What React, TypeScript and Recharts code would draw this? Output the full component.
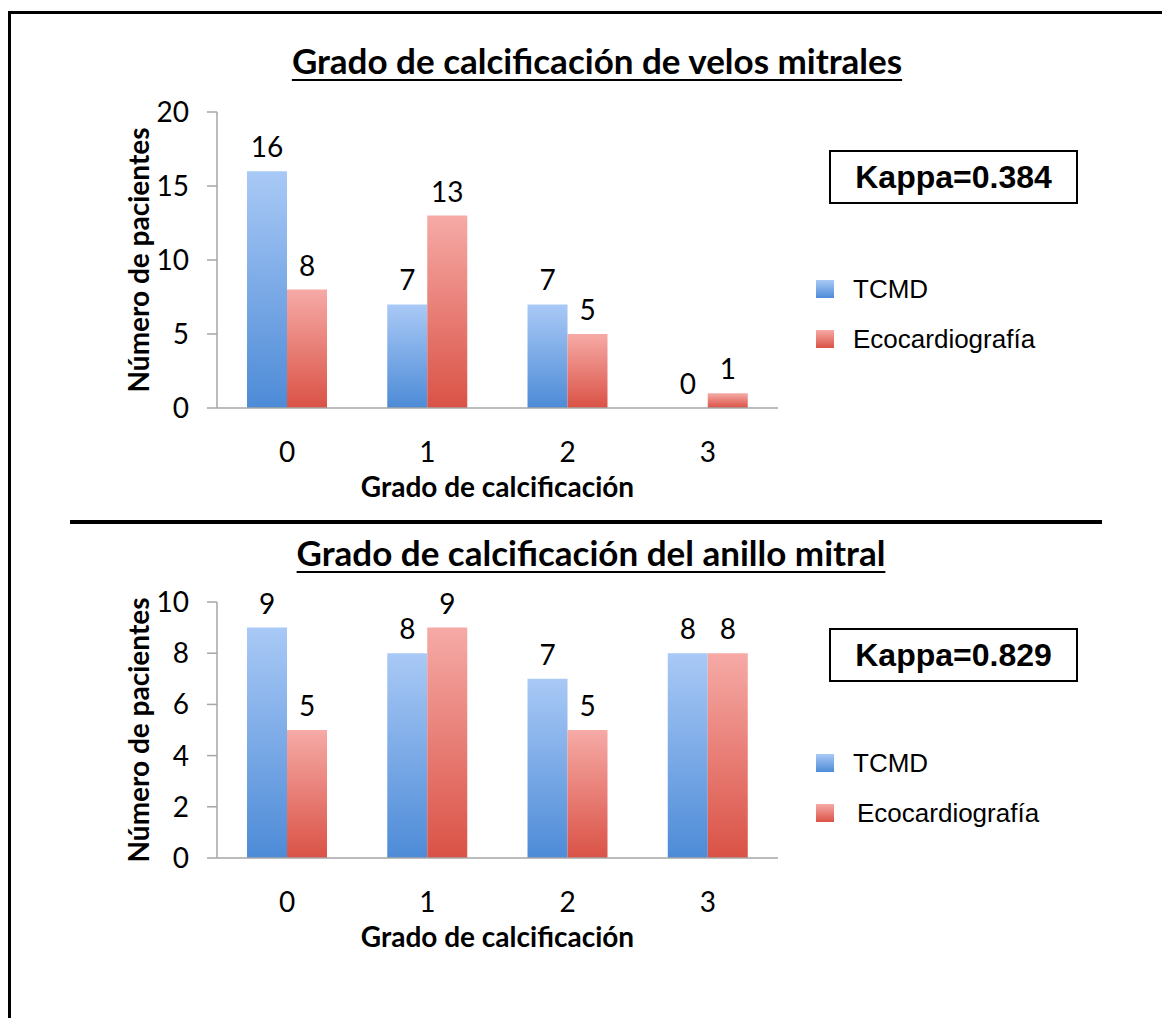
import React from "react";
import { Bar, BarChart, LabelList, Legend, XAxis, YAxis, Label } from "recharts";

// grado de calcificación (eje X)
const categories = ["0", "1", "2", "3"];

// velos mitrales
const velosTcmd = [16, 7, 7, 0];
const velosEco = [8, 13, 5, 1];
const velosTicks = [0, 5, 10, 15, 20];

// anillo mitral
const anilloTcmd = [9, 8, 7, 8];
const anilloEco = [5, 9, 5, 8];
const anilloTicks = [0, 2, 4, 6, 8, 10];

const seriesNames = ["TCMD", "Ecocardiografía"];

const FONT = "Lato, 'Open Sans', sans-serif";
const ARIAL = "'Liberation Sans', Arial, sans-serif";
const AXIS_GREY = "#a6a6a6";

function buildRows(a: number[], b: number[]) {
  return categories.map((c, i) => ({ cat: c, tcmd: a[i], eco: b[i] }));
}

function LegendBox({ textShift }: { textShift: number }) {
  const rows = [
    { name: seriesNames[0], fill: "url(#legBlue)", shift: 0 },
    { name: seriesNames[1], fill: "url(#legRed)", shift: textShift },
  ];
  return (
    <div style={{ fontFamily: ARIAL, fontSize: 26, color: "#000" }}>
      {rows.map((r) => (
        <div key={r.name} style={{ display: "flex", alignItems: "center", height: 50 }}>
          <svg width={18} height={18} style={{ marginRight: 19 + r.shift }}>
            <defs>
              <linearGradient id="legBlue" x1="0" y1="0" x2="0" y2="1">
                <stop offset="0%" stopColor="#a9c9f6" />
                <stop offset="100%" stopColor="#4d8bd7" />
              </linearGradient>
              <linearGradient id="legRed" x1="0" y1="0" x2="0" y2="1">
                <stop offset="0%" stopColor="#f6aaa6" />
                <stop offset="100%" stopColor="#da5246" />
              </linearGradient>
            </defs>
            <rect x={0} y={0} width={18} height={18} fill={r.fill} />
          </svg>
          <span>{r.name}</span>
        </div>
      ))}
    </div>
  );
}

const yTitle = (props: any) => {
  const vb = props.viewBox;
  const cy = vb.y + vb.height / 2;
  return (
    <text
      x={138}
      y={cy}
      transform={`rotate(-90, 138, ${cy})`}
      textAnchor="middle"
      dominantBaseline="central"
      fontFamily={FONT}
      fontWeight={700}
      fontSize={28}
      fill="#000"
    >
      Número de pacientes
    </text>
  );
};

const xTitle = (props: any) => {
  const vb = props.viewBox;
  return (
    <text
      x={vb.x + vb.width / 2}
      y={vb.y + 78}
      textAnchor="middle"
      dominantBaseline="central"
      fontFamily={FONT}
      fontWeight={700}
      fontSize={28}
      fill="#000"
    >
      Grado de calcificación
    </text>
  );
};

// etiqueta de valor encima de cada barra (también para el valor 0)
const valueLabel = (props: any) => {
  const { x, y, width, value } = props;
  if (x == null || y == null) return null;
  return (
    <text
      x={Number(x) + Number(width) / 2}
      y={Number(y) - 14}
      textAnchor="middle"
      fontFamily={FONT}
      fontSize={28}
      fill="#000"
    >
      {String(value)}
    </text>
  );
};

interface PanelProps {
  top: number;
  plotTop: number;
  plotHeight: number;
  tcmd: number[];
  eco: number[];
  ticks: number[];
  legendTop: number;
  legendShift: number;
}

function Panel({ top, plotTop, plotHeight, tcmd, eco, ticks, legendTop, legendShift }: PanelProps) {
  const rows = buildRows(tcmd, eco);
  const xAxisHeight = 110;
  return (
    <div style={{ position: "absolute", left: 0, top }}>
      <BarChart
        width={1162}
        height={plotTop + plotHeight + xAxisHeight}
        data={rows}
        margin={{ top: plotTop, right: 384, bottom: 0, left: 0 }}
        barCategoryGap="21.4%"
        barGap={0}
      >
        <defs>
          <linearGradient id="barBlue" x1="0" y1="0" x2="0" y2="1">
            <stop offset="0%" stopColor="#a9c9f6" />
            <stop offset="100%" stopColor="#4d8bd7" />
          </linearGradient>
          <linearGradient id="barRed" x1="0" y1="0" x2="0" y2="1">
            <stop offset="0%" stopColor="#f6aaa6" />
            <stop offset="100%" stopColor="#da5246" />
          </linearGradient>
        </defs>
        <XAxis
          dataKey="cat"
          height={xAxisHeight}
          tickLine={false}
          axisLine={{ stroke: AXIS_GREY, strokeWidth: 1.5 }}
          tick={{ fill: "#000", fontSize: 28, fontFamily: FONT }}
          tickMargin={28}
        >
          <Label content={xTitle} />
        </XAxis>
        <YAxis
          width={217}
          domain={[0, ticks[ticks.length - 1]]}
          ticks={ticks}
          interval={0}
          tickSize={10}
          tickMargin={18}
          tickLine={{ stroke: AXIS_GREY, strokeWidth: 1.5 }}
          axisLine={{ stroke: AXIS_GREY, strokeWidth: 1.5 }}
          tick={{ fill: "#000", fontSize: 28, fontFamily: FONT }}
        >
          <Label content={yTitle} />
        </YAxis>
        <Legend
          layout="vertical"
          align="center"
          verticalAlign="middle"
          wrapperStyle={{ left: 816, top: legendTop, width: 320, height: 100 }}
          content={() => <LegendBox textShift={legendShift} />}
        />
        <Bar dataKey="tcmd" name={seriesNames[0]} fill="url(#barBlue)" minPointSize={0.01} isAnimationActive={false}>
          <LabelList dataKey="tcmd" content={valueLabel} />
        </Bar>
        <Bar dataKey="eco" name={seriesNames[1]} fill="url(#barRed)" minPointSize={0.01} isAnimationActive={false}>
          <LabelList dataKey="eco" content={valueLabel} />
        </Bar>
      </BarChart>
    </div>
  );
}

function KappaBox({ top, text }: { top: number; text: string }) {
  return (
    <div
      style={{
        position: "absolute",
        left: 829,
        top,
        width: 245,
        height: 50,
        border: "2px solid #000",
        display: "flex",
        alignItems: "center",
        justifyContent: "center",
        fontFamily: ARIAL,
        fontWeight: 700,
        fontSize: 32,
        color: "#000",
        background: "#fff",
      }}
    >
      {text}
    </div>
  );
}

function Title({ top, text, center }: { top: number; text: string; center: number }) {
  return (
    <div
      style={{
        position: "absolute",
        left: center - 450,
        width: 900,
        top,
        textAlign: "center",
        fontFamily: FONT,
        fontWeight: 700,
        fontSize: 35,
        lineHeight: "40px",
        textDecoration: "underline",
        textDecorationThickness: 2,
        textUnderlineOffset: 5,
        color: "#000",
      }}
    >
      {text}
    </div>
  );
}

export default function App() {
  return (
    <div
      style={{
        position: "fixed",
        left: 0,
        top: 0,
        width: 1162,
        height: 1018,
        overflow: "hidden",
        background: "#fff",
      }}
    >
      <div
        style={{
          position: "absolute",
          left: 8,
          top: 11,
          width: 1300,
          height: 1200,
          border: "3px solid #000",
        }}
      />
      <Title top={40} text="Grado de calcificación de velos mitrales" center={597} />
      <Panel
        top={0}
        plotTop={112}
        plotHeight={296}
        tcmd={velosTcmd}
        eco={velosEco}
        ticks={velosTicks}
        legendTop={264}
        legendShift={0}
      />
      <KappaBox top={150} text="Kappa=0.384" />

      <div style={{ position: "absolute", left: 70, top: 520, width: 1032, height: 4, background: "#000" }} />

      <Title top={532} text="Grado de calcificación del anillo mitral" center={591} />
      <Panel
        top={500}
        plotTop={102}
        plotHeight={256}
        tcmd={anilloTcmd}
        eco={anilloEco}
        ticks={anilloTicks}
        legendTop={238}
        legendShift={4}
      />
      <KappaBox top={628} text="Kappa=0.829" />
    </div>
  );
}
